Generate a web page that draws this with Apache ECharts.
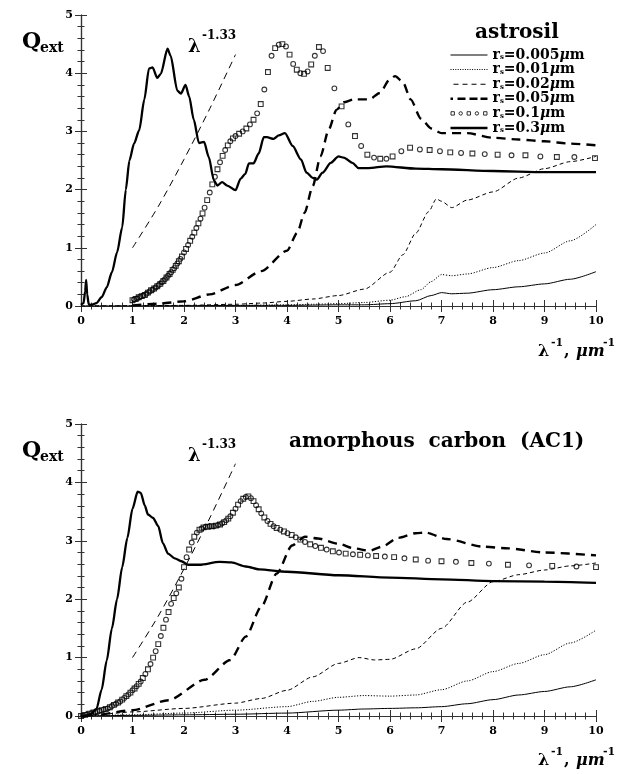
<!DOCTYPE html>
<html>
<head>
<meta charset="utf-8">
<script src="https://cdn.jsdelivr.net/npm/echarts@6/dist/echarts.min.js"></script>
<style>
  html, body { margin: 0; padding: 0; background: #fff; }
  #chart { width: 619px; height: 774px; }
</style>
</head>
<body>
<div id="chart"></div>
<script>
// ---------- astrosil (upper panel) ----------
const topR005X = [0, 1, 2, 3, 4, 5, 5.5, 6, 6.5, 6.8, 7.0, 7.2, 7.5, 8, 8.5, 9, 9.5, 10];
const topR005Y = [0, 0, 0.005, 0.01, 0.01, 0.02, 0.02, 0.04, 0.09, 0.18, 0.23, 0.21, 0.22, 0.28, 0.33, 0.38, 0.46, 0.59];

const topR01X = [0, 1, 2, 3, 4, 4.5, 5, 5.5, 6, 6.3, 6.6, 6.8, 7.0, 7.2, 7.5, 8, 8.5, 9, 9.5, 10];
const topR01Y = [0, 0.005, 0.01, 0.01, 0.02, 0.03, 0.04, 0.06, 0.1, 0.16, 0.28, 0.42, 0.54, 0.52, 0.55, 0.66, 0.78, 0.91, 1.12, 1.4];

const topR02X = [0, 1, 2, 3, 3.5, 4, 4.5, 5, 5.5, 6, 6.25, 6.5, 6.75, 6.9, 7.0, 7.2, 7.5, 8, 8.5, 9, 9.5, 10];
const topR02Y = [0, 0.005, 0.01, 0.03, 0.05, 0.08, 0.12, 0.18, 0.29, 0.58, 0.88, 1.25, 1.62, 1.84, 1.8, 1.69, 1.82, 1.96, 2.2, 2.36, 2.48, 2.57];

const topR05X = [1, 1.5, 2, 2.5, 3, 3.5, 4, 4.2, 4.34, 4.5, 4.65, 4.81, 4.96, 5.1, 5.3, 5.6, 5.8, 6.0, 6.1, 6.25, 6.4, 6.6, 6.8, 7.0, 7.5, 8, 8.5, 9, 9.5, 10];
const topR05Y = [0.01, 0.04, 0.08, 0.2, 0.36, 0.6, 0.95, 1.26, 1.6, 2.06, 2.57, 3.03, 3.37, 3.5, 3.55, 3.55, 3.66, 3.9, 3.95, 3.85, 3.55, 3.22, 3.05, 2.97, 2.97, 2.89, 2.86, 2.83, 2.79, 2.76];

const topR1X = [1.00, 1.03, 1.06, 1.09, 1.12, 1.15, 1.18, 1.21, 1.24, 1.27, 1.30, 1.33, 1.36, 1.39, 1.42, 1.45, 1.48, 1.51, 1.54, 1.57,
                1.60, 1.63, 1.66, 1.69, 1.72, 1.75, 1.78, 1.81, 1.84, 1.87, 1.90, 1.93, 1.96, 2.00, 2.04, 2.08, 2.12, 2.16, 2.20, 2.24,
                2.28, 2.32, 2.36, 2.40, 2.45, 2.50, 2.55, 2.60, 2.65, 2.70, 2.75, 2.80, 2.85, 2.90, 2.95,
                3.00, 3.07, 3.14, 3.21, 3.28, 3.35, 3.42, 3.49, 3.56, 3.63, 3.70, 3.77, 3.84, 3.91, 3.98, 4.05, 4.12, 4.19, 4.26, 4.33,
                4.40, 4.47, 4.54, 4.62, 4.70, 4.79, 4.92, 5.06, 5.19, 5.32, 5.44, 5.56, 5.69, 5.81, 5.93, 6.05, 6.22, 6.39, 6.58, 6.77,
                6.97, 7.17, 7.38, 7.60, 7.84, 8.09, 8.36, 8.63, 8.92, 9.24, 9.58, 9.98];
const topR1Y = [0.10, 0.11, 0.12, 0.13, 0.15, 0.16, 0.17, 0.18, 0.19, 0.21, 0.23, 0.25, 0.27, 0.28, 0.30, 0.32, 0.34, 0.36, 0.38, 0.41,
                0.43, 0.46, 0.49, 0.52, 0.55, 0.58, 0.62, 0.65, 0.69, 0.73, 0.77, 0.81, 0.85, 0.92, 0.98, 1.05, 1.12, 1.19, 1.26, 1.34,
                1.42, 1.50, 1.59, 1.69, 1.82, 1.95, 2.09, 2.22, 2.35, 2.47, 2.58, 2.68, 2.76, 2.83, 2.88,
                2.92, 2.96, 3.00, 3.05, 3.12, 3.20, 3.31, 3.47, 3.72, 4.02, 4.30, 4.43, 4.49, 4.50, 4.46, 4.32, 4.16, 4.06, 4.00, 3.99,
                4.03, 4.15, 4.30, 4.45, 4.38, 4.09, 3.74, 3.43, 3.12, 2.92, 2.75, 2.60, 2.55, 2.53, 2.53, 2.57, 2.66, 2.72, 2.69, 2.68,
                2.66, 2.64, 2.63, 2.62, 2.61, 2.60, 2.59, 2.59, 2.57, 2.56, 2.56, 2.54];

const topR3X = [0, 0.05, 0.08, 0.1, 0.12, 0.15, 0.2, 0.3, 0.4, 0.5, 0.6, 0.7, 0.8, 0.87, 0.94, 1.03, 1.13, 1.23, 1.32, 1.39,
                1.48, 1.55, 1.68, 1.74, 1.87, 1.94, 2.03, 2.1, 2.19, 2.29, 2.39, 2.48, 2.58, 2.65, 2.74, 2.84, 3.0, 3.1, 3.19, 3.26,
                3.35, 3.45, 3.55, 3.61, 3.74, 3.84, 3.96, 4.11, 4.27, 4.38, 4.5, 4.58, 4.69, 4.85, 5.0, 5.1, 5.27, 5.39, 5.58, 5.93,
                6.5, 7, 8, 9, 10];
const topR3Y = [0.02, 0.05, 0.25, 0.45, 0.2, 0.03, 0.02, 0.05, 0.15, 0.32, 0.58, 0.92, 1.35, 2.0, 2.5, 2.79, 3.02, 3.55, 4.08, 4.1,
                3.92, 3.99, 4.42, 4.3, 3.7, 3.65, 3.8, 3.6, 3.2, 2.8, 2.82, 2.56, 2.16, 2.07, 2.13, 2.07, 1.99, 2.19, 2.27, 2.45,
                2.45, 2.62, 2.9, 2.9, 2.87, 2.93, 2.97, 2.75, 2.52, 2.29, 2.2, 2.17, 2.29, 2.46, 2.57, 2.55, 2.46, 2.37, 2.37, 2.4,
                2.36, 2.35, 2.32, 2.3, 2.3];

// power-law guide, Q ~ λ^-1.33
const lawX = [1, 1.5, 2, 2.5, 3];
const lawY = [1, 1.71, 2.52, 3.39, 4.32];

// ---------- amorphous carbon AC1 (lower panel) ----------
const botR005X = [0, 1, 2, 3, 4, 5, 5.5, 6, 6.5, 7, 7.5, 8, 8.5, 9, 9.5, 10];
const botR005Y = [0, 0.01, 0.02, 0.03, 0.05, 0.1, 0.12, 0.13, 0.14, 0.16, 0.21, 0.28, 0.36, 0.42, 0.5, 0.62];

const botR01X = [0, 1, 2, 3, 4, 4.5, 5, 5.5, 6, 6.5, 7, 7.5, 8, 8.5, 9, 9.5, 10];
const botR01Y = [0, 0.02, 0.05, 0.1, 0.16, 0.25, 0.32, 0.35, 0.34, 0.36, 0.45, 0.6, 0.76, 0.9, 1.05, 1.25, 1.47];

const botR02X = [0, 0.5, 1, 2, 3, 3.5, 4, 4.5, 5, 5.4, 5.7, 6, 6.5, 7, 7.5, 8, 8.5, 9, 9.5, 10];
const botR02Y = [0, 0.04, 0.07, 0.13, 0.22, 0.3, 0.44, 0.67, 0.9, 1.0, 0.96, 0.97, 1.15, 1.5, 1.95, 2.3, 2.42, 2.5, 2.57, 2.62];

const botR05X = [0.4, 1, 1.7, 2.4, 2.9, 3.2, 3.5, 3.8, 4.1, 4.35, 4.6, 5.0, 5.3, 5.6, 5.85, 6.15, 6.5, 6.7, 7.1, 7.8, 8.3, 9, 10];
const botR05Y = [0.02, 0.1, 0.27, 0.62, 0.96, 1.36, 1.87, 2.44, 2.92, 3.07, 3.04, 2.95, 2.87, 2.83, 2.9, 3.05, 3.13, 3.14, 3.03, 2.9, 2.87, 2.8, 2.75];

const botR1X = [0.00, 0.04, 0.08, 0.12, 0.16, 0.20, 0.24, 0.28, 0.32, 0.36, 0.40, 0.44, 0.48, 0.52, 0.56, 0.60, 0.64, 0.68, 0.72, 0.76,
                0.80, 0.84, 0.88, 0.92, 0.96, 1.00, 1.04, 1.08, 1.12, 1.16, 1.20, 1.25, 1.30, 1.35, 1.40, 1.45,
                1.50, 1.55, 1.60, 1.65, 1.70, 1.75, 1.80, 1.85, 1.90, 1.95, 2.00, 2.05, 2.10, 2.15, 2.20, 2.25, 2.30, 2.34, 2.38, 2.42,
                2.46, 2.50, 2.54, 2.58, 2.62, 2.66, 2.70, 2.74, 2.78, 2.82, 2.86, 2.90, 2.95, 3.00, 3.05, 3.10, 3.15, 3.20, 3.25, 3.30,
                3.35, 3.40, 3.45, 3.50, 3.56, 3.62, 3.68, 3.74, 3.80, 3.87, 3.94, 4.01, 4.09, 4.17, 4.26, 4.35, 4.45, 4.55, 4.66, 4.77,
                4.89, 5.01, 5.14, 5.28, 5.42, 5.57, 5.73, 5.90, 6.08, 6.28, 6.50, 6.74, 7.00, 7.28, 7.58, 7.92, 8.29, 8.70, 9.15, 9.62, 10.0];
const botR1Y = [0.00, 0.01, 0.02, 0.03, 0.04, 0.05, 0.06, 0.07, 0.08, 0.09, 0.10, 0.11, 0.12, 0.13, 0.15, 0.17, 0.19, 0.21, 0.23, 0.25,
                0.28, 0.31, 0.34, 0.37, 0.40, 0.44, 0.47, 0.51, 0.55, 0.59, 0.65, 0.72, 0.80, 0.89, 1.00, 1.11,
                1.23, 1.37, 1.51, 1.65, 1.78, 1.92, 2.02, 2.10, 2.20, 2.35, 2.55, 2.72, 2.85, 2.97, 3.07, 3.14, 3.19, 3.21, 3.23, 3.24,
                3.24, 3.25, 3.25, 3.25, 3.26, 3.27, 3.28, 3.30, 3.32, 3.35, 3.38, 3.42, 3.48, 3.55, 3.62, 3.68, 3.72, 3.75, 3.76, 3.73,
                3.68, 3.61, 3.54, 3.47, 3.40, 3.34, 3.29, 3.25, 3.22, 3.19, 3.16, 3.13, 3.10, 3.06, 3.02, 2.98, 2.94, 2.91, 2.88, 2.85,
                2.82, 2.80, 2.78, 2.77, 2.76, 2.75, 2.74, 2.73, 2.72, 2.70, 2.68, 2.66, 2.65, 2.64, 2.62, 2.61, 2.59, 2.58, 2.57, 2.56, 2.55];

const botR3X = [0, 0.1, 0.2, 0.3, 0.4, 0.5, 0.6, 0.7, 0.8, 0.9, 1.0, 1.1, 1.16, 1.24, 1.3, 1.4, 1.5, 1.59, 1.69, 1.82,
                1.95, 2.08, 2.3, 2.69, 2.92, 3.2, 3.46, 4.0, 5, 6, 7, 8, 9, 10];
const botR3Y = [0, 0.01, 0.04, 0.12, 0.45, 0.95, 1.5, 2.0, 2.55, 3.05, 3.55, 3.84, 3.82, 3.6, 3.45, 3.39, 3.25, 2.96, 2.78, 2.7,
                2.65, 2.59, 2.59, 2.64, 2.63, 2.56, 2.51, 2.47, 2.41, 2.37, 2.34, 2.31, 2.3, 2.28];

// legend entries (grain radius in µm)
const radii = ['0.005', '0.01', '0.02', '0.05', '0.1', '0.3'];

const SERIF = '"DejaVu Serif", "Liberation Serif", serif';
const pairs = (xs, ys) => xs.map((x, i) => [x, ys[i]]);

const chart = echarts.init(document.getElementById('chart'), null, { renderer: 'canvas' });

function gridAxes(gridIndex) {
  const tick = { show: true, inside: true, length: 6, lineStyle: { color: '#333', width: 1 } };
  const minor = { show: true, splitNumber: 5, length: 3.5, lineStyle: { color: '#333', width: 1 } };
  const line = { show: true, lineStyle: { color: '#333', width: 1.2 } };
  const label = { fontFamily: SERIF, fontWeight: 'bold', fontSize: 11, color: '#000' };
  const common = { gridIndex, type: 'value', axisLine: line, axisTick: tick, minorTick: minor, splitLine: { show: false } };
  const x = [
    Object.assign({ min: 0, max: 10, interval: 1, position: 'bottom', axisLabel: Object.assign({ margin: 10 }, label) }, common),
    Object.assign({ min: 0, max: 10, interval: 1, position: 'top', axisLabel: { show: false } }, common)
  ];
  const y = [
    Object.assign({ min: 0, max: 5, interval: 1, position: 'left', axisLabel: Object.assign({ margin: 8 }, label) }, common),
    Object.assign({ min: 0, max: 5, interval: 1, position: 'right', axisLabel: { show: false } }, common)
  ];
  return { x, y };
}
const g0 = gridAxes(0), g1 = gridAxes(1);

function lineSeries(name, panel, xs, ys, width, type) {
  return {
    name, type: 'line', xAxisIndex: panel * 2, yAxisIndex: panel * 2,
    data: pairs(xs, ys), symbol: 'none', smooth: 0.25, smoothMonotone: 'x',
    itemStyle: { color: '#000' },
    lineStyle: { color: '#000', width, type }, z: 2, silent: true
  };
}
// open squares and circles, alternating; where they crowd together the outlines merge into a dark band
function markerSeries(name, panel, xs, ys) {
  return {
    name, type: 'scatter', xAxisIndex: panel * 2, yAxisIndex: panel * 2,
    data: xs.map((x, i) => ({ value: [x, ys[i]], symbol: i % 2 ? 'circle' : 'rect' })),
    symbolSize: 4.8,
    itemStyle: { color: 'rgba(255,255,255,0)', borderColor: '#000', borderWidth: 1.1 }, z: 3, silent: true
  };
}
function lawSeries(panel) {
  return {
    name: 'law', type: 'line', xAxisIndex: panel * 2, yAxisIndex: panel * 2,
    data: pairs(lawX, lawY), symbol: 'none', smooth: 0.3,
    itemStyle: { color: '#000' },
    lineStyle: { color: '#000', width: 1, type: [7, 5] }, silent: true
  };
}

const styles = {
  '0.005': [1, 'solid'],
  '0.01': [1, [1.2, 1.6]],
  '0.02': [1, [4, 3]],
  '0.05': [2.4, [9, 6]],
  '0.3': [2.3, 'solid']
};

const series = [
  lineSeries('0.005', 0, topR005X, topR005Y, ...styles['0.005']),
  lineSeries('0.01', 0, topR01X, topR01Y, ...styles['0.01']),
  lineSeries('0.02', 0, topR02X, topR02Y, ...styles['0.02']),
  lineSeries('0.05', 0, topR05X, topR05Y, ...styles['0.05']),
  markerSeries('0.1', 0, topR1X, topR1Y),
  lineSeries('0.3', 0, topR3X, topR3Y, ...styles['0.3']),
  lawSeries(0),
  lineSeries('0.005', 1, botR005X, botR005Y, ...styles['0.005']),
  lineSeries('0.01', 1, botR01X, botR01Y, ...styles['0.01']),
  lineSeries('0.02', 1, botR02X, botR02Y, ...styles['0.02']),
  lineSeries('0.05', 1, botR05X, botR05Y, ...styles['0.05']),
  markerSeries('0.1', 1, botR1X, botR1Y),
  lineSeries('0.3', 1, botR3X, botR3Y, ...styles['0.3']),
  lawSeries(1)
];

// Legend samples are drawn as icon paths inside a 37x10 box
// (the two tiny corner marks fix the box so the path is not rescaled).
const BOX = 'path://M0,0h0.01M37,10h0.01';
function bar(x0, len, h) {
  return `M${x0},${5 - h / 2}h${len}v${h}h${-len}z`;
}
function dashIcon(segs, h) {
  return BOX + segs.map(s => bar(s[0], s[1], h)).join('');
}
const dotSegs = [];
for (let x = 0; x < 37; x += 2.4) dotSegs.push([x, 1]);
const legendIcons = {
  '0.005': dashIcon([[0, 37]], 1),
  '0.01': dashIcon(dotSegs, 1),
  '0.02': dashIcon([[3, 5], [12, 5], [21, 5], [30, 5]], 1),
  '0.05': dashIcon([[0, 2.5], [7, 8], [19, 8], [30, 7]], 2.4),
  '0.1': BOX +
    'M0.5,3.3h3.4v3.4h-3.4z' +
    'M8.5,5a1.7,1.7 0 1,0 3.4,0a1.7,1.7 0 1,0 -3.4,0' +
    'M16.6,3.3h3.4v3.4h-3.4z' +
    'M24.7,5a1.7,1.7 0 1,0 3.4,0a1.7,1.7 0 1,0 -3.4,0' +
    'M33.1,3.3h3.4v3.4h-3.4z',
  '0.3': dashIcon([[0, 37]], 2.4)
};

const legendData = radii.map(r => {
  if (r === '0.1') {
    return { name: r, icon: legendIcons[r], itemStyle: { color: '#fff', borderColor: '#000', borderWidth: 1 } };
  }
  return { name: r, icon: legendIcons[r], itemStyle: { color: '#000', borderWidth: 0 } };
});

function txt(x, y, text, size, extra) {
  return { type: 'text', x, y, silent: true,
    style: Object.assign({ text, font: `bold ${size}px ${SERIF}`, fill: '#000', textVerticalAlign: 'middle' }, extra || {}) };
}
function panelTexts(dy, title, titleX) {
  return [
    // Q_ext
    txt(22, 42 + dy, 'Q', 22),
    txt(40, 48 + dy, 'ext', 14),
    // λ^-1.33
    txt(188, 47 + dy, 'λ', 18),
    txt(202, 36 + dy, '-1.33', 12),
    // panel title
    txt(titleX, 33 + dy, title, 20),
    // axis title λ^-1, µm^-1
    txt(538, 352 + dy, 'λ', 16),
    txt(551, 343 + dy, '-1', 11),
    txt(564, 352 + dy, ',', 16),
    txt(576, 352 + dy, 'μm', 16, { font: `italic bold 16px ${SERIF}` }),
    txt(603, 343 + dy, '-1', 11)
  ];
}

chart.setOption({
  animation: false,
  backgroundColor: '#fff',
  grid: [
    { left: 81, top: 15, width: 515, height: 291 },
    { left: 81, top: 424, width: 515, height: 292 }
  ],
  xAxis: [...g0.x, ...g1.x],
  yAxis: [...g0.y, ...g1.y],
  legend: {
    show: true, orient: 'vertical', left: 450, top: 48, padding: 0,
    itemWidth: 37, itemHeight: 10, itemGap: 0.6, selectedMode: false,
    data: legendData,
    formatter: name => `{r|r}{s|s}{t|=${name}}{mu|μ}{t|m}`,
    textStyle: {
      color: '#000',
      rich: {
        r: { fontFamily: SERIF, fontWeight: 'bold', fontSize: 14, lineHeight: 12 },
        s: { fontFamily: SERIF, fontWeight: 'bold', fontSize: 7, lineHeight: 7, verticalAlign: 'bottom' },
        t: { fontFamily: SERIF, fontWeight: 'bold', fontSize: 14, lineHeight: 12 },
        mu: { fontFamily: SERIF, fontWeight: 'bold', fontStyle: 'italic', fontSize: 14, lineHeight: 12 }
      }
    }
  },
  graphic: [
    ...panelTexts(0, 'astrosil', 475),
    ...panelTexts(409, 'amorphous  carbon  (AC1)', 289)
  ],
  series
});
</script>
</body>
</html>
